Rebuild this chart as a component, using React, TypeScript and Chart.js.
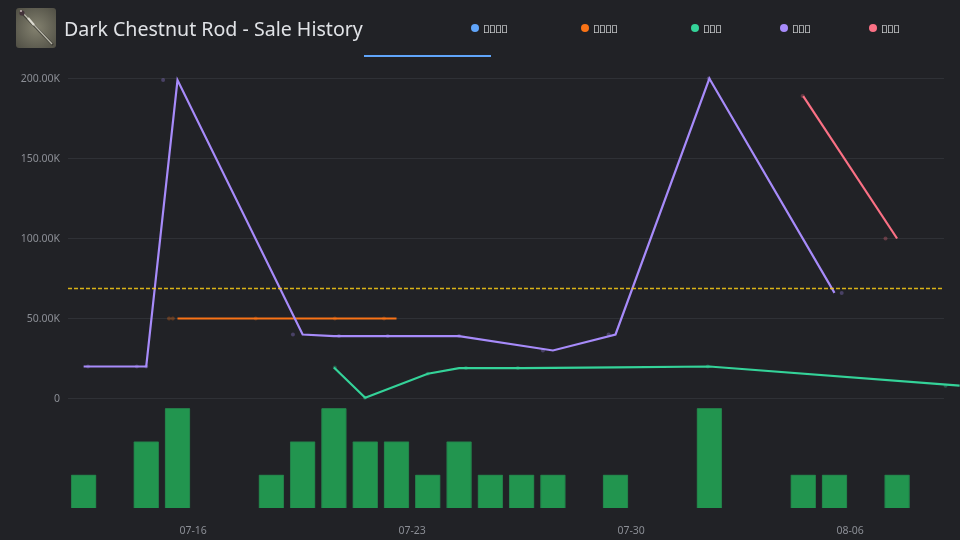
import { useEffect, useRef } from "react";
import Chart from "chart.js/auto";

const title = "Dark Chestnut Rod - Sale History";

// x values are days since the left edge of the plot (07-12)
const tickDays = [4, 11, 18, 25];
const tickLabels = ["07-16", "07-23", "07-30", "08-06"];

const barDays = [0.5, 2.5, 3.5, 6.5, 7.5, 8.5, 9.5, 10.5, 11.5, 12.5, 13.5, 14.5, 15.5, 17.5, 20.5, 23.5, 24.5, 26.5];
const barCounts = [1, 2, 3, 1, 2, 3, 2, 2, 1, 2, 1, 1, 1, 1, 3, 1, 1, 1];

const purpleDays = [0.5, 2.5, 3.5, 7.5, 8.5, 12.5, 15.5, 17.5, 20.5, 24.5];
const purpleValues = [20000, 20000, 199000, 40000, 39000, 39000, 30000, 40000, 200000, 66000];
const orangeDays = [3.5, 10.5];
const orangeValues = [50000, 50000];
const greenDays = [8.5, 9.5, 11.5, 12.5, 14.5, 17.5, 20.5, 28.5];
const greenValues = [19400, 500, 15500, 19000, 19000, 19500, 20000, 8000];
const pinkDays = [23.5, 26.5];
const pinkValues = [189000, 100000];

// single sales, the faint dots
const purpleSaleDays = [0.64, 2.2, 2.5, 3.04, 7.19, 8.66, 10.22, 12.5, 15.18, 17.28, 20.48, 24.73];
const purpleSaleValues = [20000, 20000, 20000, 199000, 40000, 39000, 39000, 39000, 30000, 40000, 200000, 66000];
const orangeSaleDays = [3.23, 3.35, 6.0, 8.53, 10.1];
const orangeSaleValues = [50000, 50000, 50000, 50000, 50000];
const greenSaleDays = [8.53, 9.49, 11.5, 12.72, 14.38, 20.45, 28.05];
const greenSaleValues = [19400, 500, 15500, 19000, 19000, 20000, 8000];
const pinkSaleDays = [23.48, 26.13];
const pinkSaleValues = [189000, 100000];

const averagePrice = 68700;

// the source page shows missing-glyph boxes here
const legendNames = ["\u{10FFFE}\u{10FFFE}\u{10FFFE}\u{10FFFE}", "\u{10FFFE}\u{10FFFE}\u{10FFFE}\u{10FFFE}", "\u{10FFFE}\u{10FFFE}\u{10FFFE}", "\u{10FFFE}\u{10FFFE}\u{10FFFE}", "\u{10FFFE}\u{10FFFE}\u{10FFFE}"];
const legendColors = ["#60a5fa", "#f97316", "#34d399", "#a78bfa", "#fb7185"];
const legendLefts = [471, 581, 691, 780, 869];

const FONT = "'Noto Sans', sans-serif";

const pts = (xs: number[], ys: number[]) => xs.map((x, i) => ({ x, y: ys[i] }));

const lineSet = (xs: number[], ys: number[], color: string) => ({
  type: "line" as const,
  data: pts(xs, ys),
  borderColor: color,
  borderWidth: 2.2,
  pointRadius: 0,
  tension: 0,
  clip: false,
  yAxisID: "y",
  order: 1,
});

const saleSet = (xs: number[], ys: number[], color: string) => ({
  type: "line" as const,
  data: pts(xs, ys),
  showLine: false,
  backgroundColor: color,
  borderWidth: 0,
  pointRadius: 2,
  clip: false,
  yAxisID: "y",
  order: 2,
});

export default function App() {
  const canvasRef = useRef<HTMLCanvasElement>(null);

  useEffect(() => {
    document.body.style.margin = "0";
    const ctx = canvasRef.current?.getContext("2d");
    if (!ctx) return;

    const chart = new Chart(ctx, {
      data: {
        datasets: [
          lineSet(purpleDays, purpleValues, "#a78bfa"),
          lineSet(orangeDays, orangeValues, "#f97316"),
          lineSet(greenDays, greenValues, "#34d399"),
          lineSet(pinkDays, pinkValues, "#fb7185"),
          saleSet(purpleSaleDays, purpleSaleValues, "rgba(167,139,250,0.3)"),
          saleSet(orangeSaleDays, orangeSaleValues, "rgba(249,115,22,0.3)"),
          saleSet(greenSaleDays, greenSaleValues, "rgba(52,211,153,0.3)"),
          saleSet(pinkSaleDays, pinkSaleValues, "rgba(251,113,133,0.3)"),
          {
            type: "line" as const,
            data: pts([0, 28], [averagePrice, averagePrice]),
            borderColor: "rgba(250,204,21,0.85)",
            borderWidth: 1.5,
            borderDash: [4, 2],
            pointRadius: 0,
            yAxisID: "y",
            order: 0,
          },
          {
            type: "bar" as const,
            data: pts(barDays, barCounts),
            backgroundColor: "#22954f",
            borderColor: "#247a48",
            borderWidth: 1,
            borderRadius: 1,
            barThickness: 25,
            yAxisID: "y1",
            order: 3,
          },
        ] as any,
      },
      options: {
        animation: false,
        responsive: false,
        layout: { padding: { top: 78.5, right: 16, left: 0, bottom: 0 } },
        plugins: { legend: { display: false }, tooltip: { enabled: false } },
        scales: {
          x: {
            type: "linear",
            offset: false,
            min: 0,
            max: 28,
            grid: { display: false },
            border: { display: false },
            afterBuildTicks: (scale) => {
              scale.ticks = tickDays.map((value) => ({ value }));
            },
            afterFit: (scale) => {
              scale.height = 32;
            },
            ticks: {
              color: "#8b8e95",
              font: { family: FONT, size: 10.5 },
              padding: 9,
              maxRotation: 0,
              callback: (val) => tickLabels[tickDays.indexOf(Number(val))],
            },
          },
          y1: {
            stack: "main",
            stackWeight: 109.5,
            min: 0,
            max: 3.3,
            grid: { display: false },
            border: { display: false },
            ticks: { display: false },
            afterFit: (scale) => {
              scale.width = 68;
            },
          },
          y: {
            stack: "main",
            stackWeight: 320,
            min: 0,
            max: 200000,
            grid: { color: "#2f3136", drawTicks: false },
            border: { display: false },
            afterFit: (scale) => {
              scale.width = 68;
            },
            ticks: {
              stepSize: 50000,
              color: "#8b8e95",
              font: { family: FONT, size: 10.5 },
              padding: 8,
              labelOffset: 1,
              callback: (val) => (Number(val) === 0 ? "0" : (Number(val) / 1000).toFixed(2) + "K"),
            },
          },
        },
      },
    });

    return () => chart.destroy();
  }, []);

  return (
    <div style={{ position: "relative", width: 960, height: 540, background: "#212226", overflow: "hidden", fontFamily: FONT }}>
      <canvas ref={canvasRef} width={960} height={540} style={{ position: "absolute", left: 0, top: 0 }} />
      <svg width={40} height={40} viewBox="0 0 40 40" style={{ position: "absolute", left: 16, top: 8 }}>
        <defs>
          <radialGradient id="iconBg" cx="50%" cy="50%" r="72%">
            <stop offset="0%" stopColor="#83816f" />
            <stop offset="100%" stopColor="#4e4d43" />
          </radialGradient>
        </defs>
        <rect width={40} height={40} rx={3} fill="url(#iconBg)" />
        <line x1={6} y1={5} x2={37} y2={37} stroke="#33322c" strokeWidth={2.6} opacity={0.7} />
        <line x1={6} y1={4} x2={36} y2={36} stroke="#b9b7aa" strokeWidth={1.3} />
        <line x1={12} y1={10} x2={18} y2={17} stroke="#dcdad0" strokeWidth={2.2} />
        <circle cx={6} cy={5} r={2.6} fill="#43333a" />
        <circle cx={5} cy={3} r={1} fill="#c9b8b8" />
      </svg>
      <div style={{ position: "absolute", left: 64, top: 16, fontSize: 19.6, lineHeight: "26px", color: "#e0e2e6", whiteSpace: "nowrap" }}>
        {title}
      </div>
      {legendNames.map((name, i) => (
        <div
          key={i}
          style={{ position: "absolute", left: legendLefts[i], top: 21, height: 14, display: "flex", alignItems: "center", whiteSpace: "nowrap" }}
        >
          <span style={{ width: 8, height: 8, borderRadius: "50%", background: legendColors[i], marginRight: 4 }} />
          <span style={{ fontSize: 11, letterSpacing: -0.5, color: "#f3f4f6" }}>{name}</span>
        </div>
      ))}
      <div style={{ position: "absolute", left: 364, top: 55, width: 127, height: 2, background: "#60a5fa" }} />
    </div>
  );
}
